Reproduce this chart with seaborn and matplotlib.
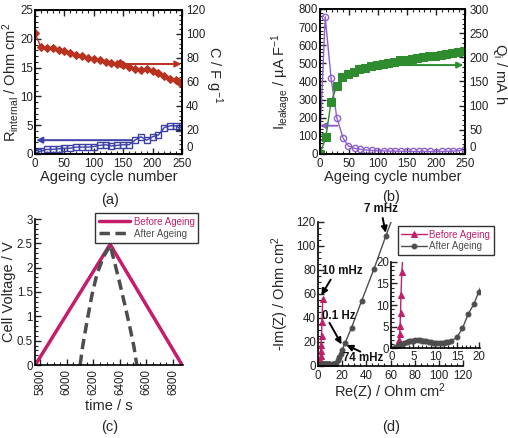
import matplotlib
matplotlib.use('Agg')
import matplotlib.pyplot as plt
from matplotlib.ticker import MultipleLocator
import seaborn as sns

# (a) capacitance and internal resistance vs ageing cycle
cyc_c = [0, 10, 20, 30, 40, 50, 60, 70, 80, 90, 100, 110, 120, 130, 140, 145,
         150, 160, 170, 180, 190, 200, 210, 220, 230, 240, 245, 250]
cap_c = [101.0, 89.0, 88.6, 88.0, 87.0, 85.8, 84.4, 82.5, 81.4, 80.3, 79.2, 78.0, 76.9, 76.1,
         75.0, 75.5, 74.2, 72.5, 70.8, 69.7, 70.5, 69.4, 67.8, 65.0, 62.5, 61.4, 59.7, 58.0]
cyc_r = [0, 5, 10, 20, 30, 40, 50, 60, 70, 80, 90, 100, 110, 120, 130, 140,
         150, 160, 170, 180, 190, 200, 210, 220, 230, 240, 245, 250]
r_int = [0.1, 0.3, 0.5, 0.8, 0.8, 0.9, 1.0, 1.0, 1.2, 1.2, 1.2, 1.3, 1.5, 1.6, 1.4, 1.5,
         1.6, 1.6, 2.4, 3.0, 2.4, 3.0, 3.3, 4.6, 4.9, 4.9, 4.5, 4.8]

# (b) leakage current and charge vs ageing cycle
cyc_i = [0, 9, 19, 29, 40, 49, 60, 69, 79, 89, 99, 110, 120, 130, 140, 150, 160,
         170, 180, 190, 200, 210, 220, 230, 240, 250]
i_leak = [95, 757, 421, 200, 86, 44, 31, 26, 22, 20, 18, 17, 16, 16, 15, 15, 14,
          14, 14, 14, 13, 14, 15, 16, 18, 28]
cyc_q = [0, 10, 19, 29, 38, 48, 58, 68, 78, 88, 98, 108, 118, 128, 138, 148, 158,
         168, 178, 188, 198, 208, 218, 228, 238, 248]
q_i = [0, 34.5, 107, 141, 160, 165.5, 170, 175, 178.5, 182, 184, 187, 189, 191, 193.5,
       195, 196, 198, 200, 202, 203, 205, 207.5, 209, 211, 214]

# (c) galvanostatic cycle
t_before = [5762, 6326, 6868]
v_before = [0.0, 2.48, 0.0]
t_after = [6100, 6120, 6156, 6190, 6226, 6275, 6326, 6365, 6401, 6440, 6477, 6505, 6527]
v_after = [0.0, 0.4, 0.96, 1.45, 1.86, 2.22, 2.46, 2.05, 1.65, 1.2, 0.75, 0.38, 0.0]

# (d) Nyquist plots
re_before = [1.0, 1.3, 1.6, 1.8, 1.9, 2.0, 2.1, 2.2, 2.4, 2.9, 3.3, 3.9]
im_before = [0.0, 0.4, 1.2, 1.9, 3.3, 5.1, 8.2, 12.3, 17.7, 25.0, 37.0, 56.0]
re_after = [0.6, 1.0, 1.5, 2.0, 2.5, 3.0, 3.5, 4.0, 4.5, 5.0, 5.5, 6.0, 6.5, 7.0, 7.5, 8.0,
            8.5, 9.0, 9.5, 10.0, 10.5, 11.0, 11.5, 12.0, 12.5, 13.0, 13.7, 14.9, 16.2,
            17.5, 18.8, 19.9, 22.3, 27.8, 36.0, 46.3, 56.0, 62.0]
im_after = [0.0, 0.3, 0.6, 0.9, 1.1, 1.3, 1.5, 1.6, 1.7, 1.8, 1.9, 1.9, 1.9, 1.8, 1.7, 1.6,
            1.5, 1.4, 1.3, 1.3, 1.2, 1.2, 1.2, 1.3, 1.4, 1.5, 1.75, 2.5, 4.6,
            7.9, 10.2, 13.0, 19.0, 32.0, 54.0, 80.8, 108.0, 124.0]

red = '#b8321f'
blue = '#3b40a8'
purple = '#8f5fcf'
green = '#2e8b2e'
crimson = '#c41e6a'
gray = '#4d4d4d'

sns.set_style('ticks')
plt.rcParams['font.family'] = ['Liberation Sans', 'DejaVu Sans']
plt.rcParams['mathtext.default'] = 'regular'
plt.rcParams['xtick.direction'] = 'in'
plt.rcParams['ytick.direction'] = 'in'
plt.rcParams['axes.linewidth'] = 1.2
plt.rcParams['axes.edgecolor'] = 'black'

W, H = 508, 438
fig = plt.figure(figsize=(W / 100, H / 100), dpi=100)

def box(l, t, r, b):
    return [l / W, 1 - b / H, (r - l) / W, (b - t) / H]

tick_fs = 8.3
lab_fs = 10.5

def style_ticks(ax, **kw):
    ax.tick_params(which='both', labelsize=tick_fs, colors='#222222', pad=1.5, **kw)
    ax.tick_params(axis='x', pad=3.2)
    ax.tick_params(which='major', length=4, width=1)
    ax.tick_params(which='minor', length=2, width=0.8)

arrow = dict(arrowstyle='-|>', lw=1.4, mutation_scale=9, shrinkA=0, shrinkB=0)

# ---------------- (a)
ax = fig.add_axes(box(35, 10, 182, 154))
ax2 = ax.twinx()
sns.lineplot(x=cyc_r, y=r_int, ax=ax, color=blue, marker='s', markersize=5,
             markerfacecolor='none', markeredgecolor=blue, markeredgewidth=1, lw=1)
sns.lineplot(x=cyc_c, y=cap_c, ax=ax2, color=red, marker='D', markersize=4,
             markeredgecolor=red, lw=1)
ax.set_xlim(0, 250)
ax.set_ylim(0, 25)
ax2.set_ylim(0, 120)
ax.xaxis.set_major_locator(MultipleLocator(50))
ax.xaxis.set_minor_locator(MultipleLocator(10))
ax.yaxis.set_major_locator(MultipleLocator(5))
ax.yaxis.set_minor_locator(MultipleLocator(1))
ax2.yaxis.set_major_locator(MultipleLocator(20))
ax2.yaxis.set_minor_locator(MultipleLocator(4))
style_ticks(ax, top=True)
style_ticks(ax2)
ax2.tick_params(axis='y', pad=3)
ax.annotate('', xy=(2, 2.4), xytext=(165, 2.4), arrowprops=dict(color=blue, **arrow))
ax2.annotate('', xy=(249, 75), xytext=(145, 75), arrowprops=dict(color=red, **arrow))
ax.set_xlabel('Ageing cycle number', fontsize=lab_fs, va='center')
ax.xaxis.set_label_coords(0.5, -0.16)
ax.set_ylabel('R$_{internal}$ / Ohm cm$^{2}$', fontsize=lab_fs, va='center')
ax.yaxis.set_label_coords(-0.165, 0.5)
ax2.set_ylabel('C / F g$^{-1}$', fontsize=lab_fs, rotation=-90, va='center')
ax2.yaxis.set_label_coords(1.215, 0.55)

# ---------------- (b)
bx = fig.add_axes(box(320, 9, 465, 154))
bx2 = bx.twinx()
sns.lineplot(x=cyc_i, y=i_leak, ax=bx, color=purple, marker='o', markersize=4.5,
             markerfacecolor='none', markeredgecolor=purple, markeredgewidth=1, lw=1)
sns.lineplot(x=cyc_q, y=q_i, ax=bx2, color=green, marker='s', markersize=5.5,
             markeredgecolor=green, lw=1)
bx.set_xlim(0, 250)
bx.set_ylim(0, 800)
bx2.set_ylim(0, 300)
bx.xaxis.set_major_locator(MultipleLocator(50))
bx.xaxis.set_minor_locator(MultipleLocator(10))
bx.yaxis.set_major_locator(MultipleLocator(100))
bx.yaxis.set_minor_locator(MultipleLocator(20))
bx2.yaxis.set_major_locator(MultipleLocator(50))
bx2.yaxis.set_minor_locator(MultipleLocator(10))
style_ticks(bx, top=True)
style_ticks(bx2)
bx2.tick_params(axis='y', pad=3)
bx.annotate('', xy=(0, 156), xytext=(30, 156), arrowprops=dict(color=purple, **arrow))
bx2.annotate('', xy=(247, 184), xytext=(130, 184), arrowprops=dict(color=green, **arrow))
bx.set_xlabel('Ageing cycle number', fontsize=lab_fs, va='center')
bx.xaxis.set_label_coords(0.5, -0.16)
bx.set_ylabel('I$_{leakage}$ / µA F$^{-1}$', fontsize=lab_fs, va='center')
bx.yaxis.set_label_coords(-0.27, 0.5)
bx2.set_ylabel('Q$_{i}$ / mA h', fontsize=lab_fs, rotation=-90, va='center')
bx2.yaxis.set_label_coords(1.24, 0.55)

# lift the right-hand "0" a little so it clears the "250" below it
for a in (ax2, bx2):
    a.yaxis.get_major_ticks()[0].label2.set_va('bottom')
    a.yaxis.get_major_ticks()[1].label2.set_va('bottom')

# ---------------- (c)
cx = fig.add_axes(box(35, 219, 183, 365))
sns.lineplot(x=t_before, y=v_before, ax=cx, color=crimson, lw=2.5, label='Before Ageing')
sns.lineplot(x=t_after, y=v_after, ax=cx, color=gray, lw=2.5, ls='--', label='After Ageing')
cx.lines[-1].set_dashes([3, 1.6])
cx.set_xlim(5760, 6875)
cx.set_ylim(0, 3)
cx.xaxis.set_major_locator(MultipleLocator(200))
cx.xaxis.set_minor_locator(MultipleLocator(50))
cx.yaxis.set_minor_locator(MultipleLocator(0.1))
cx.set_yticks([0, 0.5, 1, 1.5, 2, 2.5, 3], ['0', '0.5', '1', '1.5', '2', '2.5', '3'])
style_ticks(cx)
cx.tick_params(axis='x', labelrotation=90)
sns.despine(ax=cx)
cx.set_xlabel('time / s', fontsize=lab_fs, va='center')
cx.xaxis.set_label_coords(0.5, -0.28)
cx.set_ylabel('Cell Voltage / V', fontsize=lab_fs, va='center')
cx.yaxis.set_label_coords(-0.175, 0.5)
leg = cx.legend(loc='upper left', bbox_to_anchor=(0.37, 1.075), fontsize=7,
                frameon=True, fancybox=False, edgecolor='#333333', framealpha=1,
                handlelength=3.2, borderpad=0.4, labelspacing=0.2, handletextpad=0.4)
leg.get_frame().set_linewidth(1)
for txt, c in zip(leg.get_texts(), [crimson, gray]):
    txt.set_color(c)

# ---------------- (d)
dx = fig.add_axes(box(318, 222, 463, 366))
sns.lineplot(x=re_before, y=im_before, ax=dx, sort=False, estimator=None, color=crimson,
             lw=1, marker='^', markersize=5, markeredgecolor=crimson, label='Before Ageing')
sns.lineplot(x=re_after, y=im_after, ax=dx, sort=False, estimator=None, color=gray,
             lw=1, marker='o', markersize=3.5, markeredgecolor=gray, label='After Ageing')
dx.set_xlim(0, 120)
dx.set_ylim(0, 120)
dx.xaxis.set_major_locator(MultipleLocator(20))
dx.xaxis.set_minor_locator(MultipleLocator(5))
dx.yaxis.set_major_locator(MultipleLocator(20))
dx.yaxis.set_minor_locator(MultipleLocator(5))
style_ticks(dx)
sns.despine(ax=dx)
dx.set_xlabel('Re(Z) / Ohm cm$^{2}$', fontsize=lab_fs, va='center')
dx.xaxis.set_label_coords(0.5, -0.18)
dx.set_ylabel('-Im(Z) / Ohm cm$^{2}$', fontsize=lab_fs, va='center')
dx.yaxis.set_label_coords(-0.26, 0.5)
leg = dx.legend(loc='upper left', bbox_to_anchor=(0.517, 1.005), fontsize=7,
                frameon=True, fancybox=False, edgecolor='#333333', framealpha=1,
                handlelength=2.6, borderpad=0.35, labelspacing=0.2, handletextpad=0.3)
leg.get_frame().set_linewidth(1)
for txt, c in zip(leg.get_texts(), [crimson, gray]):
    txt.set_color(c)

bold = dict(fontsize=8.3, fontweight='bold', color='#111111')
dx.annotate('7 mHz', xy=(56, 111), xytext=(52, 131), ha='center', va='center',
            annotation_clip=False, arrowprops=dict(color='k', **arrow), **bold)
dx.annotate('10 mHz', xy=(3, 79), xytext=(3, 79), ha='left', va='center', **bold)
dx.annotate('', xy=(2.8, 59), xytext=(10.5, 72), arrowprops=dict(color='k', **arrow))
dx.annotate('0.1 Hz', xy=(3, 42), xytext=(3, 42), ha='left', va='center', **bold)
dx.annotate('', xy=(19.5, 18), xytext=(9.5, 36), arrowprops=dict(color='k', **arrow))
dx.annotate('74 mHz', xy=(21, 7), xytext=(21, 7), ha='left', va='center', **bold)
dx.annotate('', xy=(23.5, 17.5), xytext=(35, 12), arrowprops=dict(color='k', **arrow))

ix = fig.add_axes(box(391.3, 261.7, 480, 348.3))
ix.patch.set_alpha(0)
sns.lineplot(x=re_before, y=im_before, ax=ix, sort=False, estimator=None, color=crimson,
             lw=1, marker='^', markersize=5, markeredgecolor=crimson, legend=False)
sns.lineplot(x=re_after, y=im_after, ax=ix, sort=False, estimator=None, color=gray,
             lw=1, marker='o', markersize=3.5, markeredgecolor=gray, legend=False)
ix.set_xlim(0, 20.2)
ix.set_ylim(0, 20)
ix.xaxis.set_major_locator(MultipleLocator(5))
ix.xaxis.set_minor_locator(MultipleLocator(1))
ix.yaxis.set_major_locator(MultipleLocator(5))
ix.yaxis.set_minor_locator(MultipleLocator(1))
style_ticks(ix)
ix.tick_params(axis='x', pad=2)
sns.despine(ax=ix)
ix.set_xlabel('')
ix.set_ylabel('')

# panel letters
for lab, x, y in [('(a)', 110, 200), ('(b)', 391, 197), ('(c)', 110, 427), ('(d)', 391, 427)]:
    fig.text(x / W, 1 - y / H, lab, ha='center', va='center', fontsize=lab_fs)

fig.savefig('out.png', dpi=100)
